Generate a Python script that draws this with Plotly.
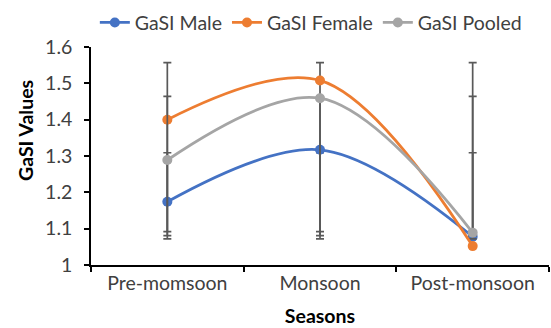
import plotly.graph_objects as go

seasons = ["Pre-momsoon", "Monsoon", "Post-monsoon"]
male = [1.174, 1.317, 1.078]
female = [1.400, 1.508, 1.052]
pooled = [1.289, 1.459, 1.089]

# error bar end points (upper / lower)
male_hi = [1.309, 1.309, 1.309]
male_lo = [1.092, 1.092, 1.092]
female_hi = [1.557, 1.557, 1.557]
female_lo = [1.072, 1.072, 1.072]
pooled_hi = [1.464, 1.464, 1.464]
pooled_lo = [1.081, 1.081, 1.081]

FONT = "Lato"
ERR_COLOR = "#595959"
TXT = "#404040"
FS = 19.5

def trace(name, vals, hi, lo, color):
    return go.Scatter(
        x=seasons, y=vals, name=name, mode="lines+markers",
        line=dict(color=color, width=2.8, shape="spline", smoothing=1.0),
        marker=dict(color=color, size=10),
        error_y=dict(type="data", symmetric=False,
                     array=[h - v for h, v in zip(hi, vals)],
                     arrayminus=[v - l for v, l in zip(vals, lo)],
                     color=ERR_COLOR, thickness=1.7, width=4),
    )

fig = go.Figure()
fig.add_trace(trace("GaSI Male", male, male_hi, male_lo, "#4472C4"))
fig.add_trace(trace("GaSI Female", female, female_hi, female_lo, "#ED7D31"))
fig.add_trace(trace("GaSI Pooled", pooled, pooled_hi, pooled_lo, "#A5A5A5"))

fig.update_layout(
    width=551, height=328,
    margin=dict(l=91, r=2, t=47, b=63, autoexpand=False),
    paper_bgcolor="white", plot_bgcolor="white",
    font=dict(family=FONT, size=FS, color=TXT),
    showlegend=True,
    legend=dict(orientation="h", x=0.48, xanchor="center", xref="paper",
                y=0.99, yref="container", yanchor="top",
                font=dict(family=FONT, size=FS, color=TXT),
                itemwidth=30, tracegroupgap=0),
    xaxis=dict(
        range=[-0.5, 2.5],
        showline=True, linecolor="#000000", linewidth=1.5,
        ticks="outside", tickson="boundaries", ticklen=5, tickcolor="#000000",
        tickwidth=1.5, showgrid=False, zeroline=False,
        tickfont=dict(family=FONT, size=FS, color=TXT),
        title=dict(text="<b>Seasons</b>", font=dict(family=FONT, size=FS, color="#000000"), standoff=16),
    ),
    yaxis=dict(
        range=[1, 1.6], dtick=0.1, tick0=1, showline=True, linecolor="#000000",
        linewidth=1.5, ticks="outside", ticklen=5, tickcolor="#000000", tickwidth=1.5,
        showgrid=False, zeroline=False, tickformat="~g", ticklabelstandoff=8,
        tickfont=dict(family=FONT, size=FS, color=TXT),
    ),
    annotations=[dict(
        text="<b>GaSI Values</b>", textangle=-90, showarrow=False,
        xref="paper", yref="paper", x=0, y=0.5, xanchor="center", yanchor="middle",
        xshift=-66, yshift=25,
        font=dict(family=FONT, size=FS, color="#000000"),
    )],
)

fig.write_html("out.html")
